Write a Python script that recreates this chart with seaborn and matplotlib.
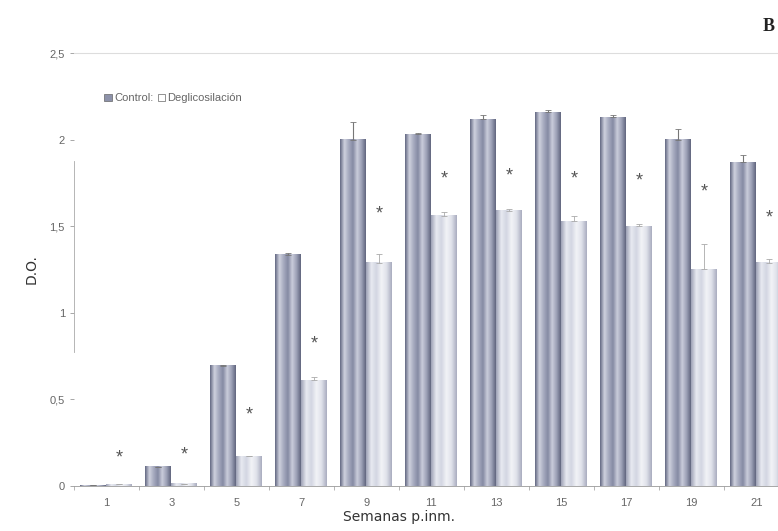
import numpy as np
import pandas as pd
import seaborn as sns
import matplotlib.pyplot as plt
from matplotlib.patches import Patch
from matplotlib.colors import LinearSegmentedColormap

semanas = ['1', '3', '5', '7', '9', '11', '13', '15', '17', '19', '21']
control = [0.004, 0.11, 0.695, 1.335, 2.00, 2.03, 2.12, 2.16, 2.13, 2.00, 1.87]
control_err = [0.0, 0.0, 0.005, 0.01, 0.10, 0.01, 0.02, 0.01, 0.01, 0.06, 0.04]
deglic = [0.01, 0.012, 0.17, 0.61, 1.29, 1.56, 1.59, 1.53, 1.50, 1.25, 1.29]
deglic_err = [0.0, 0.0, 0.005, 0.02, 0.05, 0.02, 0.01, 0.03, 0.01, 0.15, 0.02]
asterisco = [0.16, 0.18, 0.41, 0.82, 1.57, 1.77, 1.79, 1.77, 1.76, 1.70, 1.55]

df = pd.DataFrame({
    'semana': semanas * 2,
    'grupo': ['Control'] * len(semanas) + ['Deglicosilación'] * len(semanas),
    'do': control + deglic,
})

plt.rcParams['font.family'] = ['Liberation Sans', 'DejaVu Sans']

fig = plt.figure(figsize=(7.78, 5.31), dpi=100)
ax = fig.add_axes([0.095, 0.085, 0.919, 0.815])

sns.barplot(data=df, x='semana', y='do', hue='grupo', order=semanas,
            palette=['#9a9fb6', '#e4e6ee'], errorbar=None, width=0.8,
            edgecolor='none', legend=False, ax=ax)

# sombreado tipo cilindro
cm_ctrl = LinearSegmentedColormap.from_list('c', ['#666b85', '#cfd1de', '#a6aabf', '#858aa3', '#c9ccda', '#9ea2b8', '#62677f'])
cm_degl = LinearSegmentedColormap.from_list('d', ['#9fa3b7', '#e8eaf1', '#d3d6e2', '#f2f3f7', '#dfe1ea', '#aaadc0'])
grad = np.linspace(0, 1, 64).reshape(1, -1)
for cont, cmap in zip(ax.containers, [cm_ctrl, cm_degl]):
    for bar in cont:
        x0, w, h = bar.get_x(), bar.get_width(), bar.get_height()
        if h <= 0:
            continue
        ax.imshow(grad, extent=[x0, x0 + w, 0, h], aspect='auto', cmap=cmap, zorder=3)

xc = [b.get_x() + b.get_width() / 2 for b in ax.containers[0]]
xd = [b.get_x() + b.get_width() / 2 for b in ax.containers[1]]
ax.errorbar(xc, control, yerr=[np.zeros(len(control)), control_err], fmt='none',
            ecolor='#777777', elinewidth=0.8, capsize=2, capthick=0.6, zorder=4)
ax.errorbar(xd, deglic, yerr=[np.zeros(len(deglic)), deglic_err], fmt='none',
            ecolor='#aaaaaa', elinewidth=0.6, capsize=2, capthick=0.6, zorder=4)

for x, y in zip(xd, asterisco):
    ax.text(x, y, '*', ha='center', va='center', fontsize=13, color='#555555', zorder=5)

ax.set_xlim(-0.5, len(semanas) - 0.5)
ax.set_ylim(0, 2.5)
ax.set_yticks([0, 0.5, 1, 1.5, 2, 2.5])
ax.set_yticklabels(['0', '0,5', '1', '1,5', '2', '2,5'])
ax.tick_params(axis='both', colors='#999999', labelcolor='#666666', labelsize=8, length=3, width=0.6)
ax.tick_params(axis='x', length=0, pad=9)
ax.set_xticks(np.arange(len(semanas) + 1) - 0.5, minor=True)
ax.tick_params(axis='x', which='minor', length=3, color='#aaaaaa')

ax.set_xlabel('Semanas p.inm.', fontsize=10, color='#333333', family='DejaVu Sans')
ax.xaxis.set_label_coords(0.455, -0.055)
ax.set_ylabel('D.O.', fontsize=10, color='#333333', family='DejaVu Sans', labelpad=8)

for s in ['left', 'right']:
    ax.spines[s].set_visible(False)
ax.spines['bottom'].set_color('#999999')
ax.spines['bottom'].set_linewidth(0.6)
ax.spines['top'].set_color('#dddddd')
ax.spines['top'].set_linewidth(0.8)
ax.plot([0, 0], [0.31, 0.75], transform=ax.transAxes, color='#aaaaaa', lw=0.6, clip_on=False)

handles = [Patch(facecolor='#8d92aa', edgecolor='#666666', lw=0.5),
           Patch(facecolor='white', edgecolor='#666666', lw=0.5)]
ax.legend(handles, ['Control:', 'Deglicosilación'], loc='upper left', bbox_to_anchor=(0.028, 0.93),
          ncol=2, frameon=False, fontsize=8, labelcolor='#666666', handlelength=0.7,
          handleheight=0.7, handletextpad=0.2, columnspacing=0.4)

fig.text(0.988, 0.95, 'B', fontsize=13, fontweight='bold', family='Liberation Serif',
         ha='center', va='center', color='#222222')

fig.savefig('out.png', dpi=100)
